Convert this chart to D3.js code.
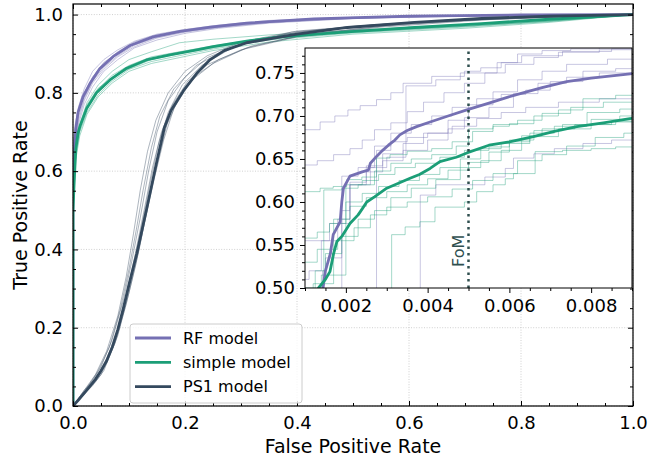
<!DOCTYPE html>
<html><head><meta charset="utf-8">
<script src="https://cdn.jsdelivr.net/npm/d3@7/dist/d3.min.js"></script>
<style>body{margin:0;background:#fff} svg text{font-family:"DejaVu Sans",sans-serif}</style>
</head><body><svg id="c" width="651" height="459"></svg>
<script>
// ---------- data ----------
const models = ["RF model", "simple model", "PS1 model"];
const colors = ["#7570b3", "#1b9e77", "#34495e"];
const xTicks = [0, 0.2, 0.4, 0.6, 0.8, 1.0];
const yTicks = [0, 0.2, 0.4, 0.6, 0.8, 1.0];
const insetXTicks = [0.002, 0.004, 0.006, 0.008];
const insetYTicks = [0.50, 0.55, 0.60, 0.65, 0.70, 0.75];
const fomValue = 0.005;

// mean ROC curves (FPR, TPR)
const rfMean = [[0,0],[0,0.6],[0.001,0.62],[0.002,0.64],[0.005,0.707],[0.009,0.75],[0.018,0.79],[0.03,0.823],[0.048,0.862],[0.072,0.893],[0.102,0.921],[0.143,0.943],[0.191,0.957],[0.245,0.968],[0.31,0.978],[0.43,0.989],[0.6,0.996],[0.8,0.999],[1,1]];
const simpleMean = [[0,0],[0,0.5],[0.002,0.57],[0.005,0.657],[0.009,0.697],[0.0125,0.715],[0.0244,0.76],[0.042,0.8],[0.066,0.833],[0.096,0.863],[0.131,0.884],[0.173,0.897],[0.221,0.91],[0.25,0.918],[0.31,0.932],[0.37,0.943],[0.49,0.956],[0.61,0.967],[0.73,0.977],[0.85,0.988],[1,1]];
const ps1Mean = [[0,0],[0.01,0.016],[0.02,0.033],[0.03,0.05],[0.04,0.068],[0.05,0.09],[0.06,0.115],[0.07,0.15],[0.08,0.195],[0.09,0.25],[0.1,0.31],[0.114,0.39],[0.131,0.5],[0.149,0.62],[0.163,0.71],[0.175,0.755],[0.197,0.805],[0.221,0.85],[0.245,0.885],[0.27,0.908],[0.31,0.928],[0.4,0.95],[0.49,0.967],[0.61,0.98],[0.73,0.99],[0.85,0.996],[1,1]];

// individual folds (main panel)
const rfFolds = [
 [[0,0],[0,0.62],[0.004,0.7],[0.01,0.75],[0.02,0.8],[0.035,0.84],[0.055,0.875],[0.08,0.905],[0.11,0.93],[0.15,0.948],[0.2,0.96],[0.26,0.97],[0.35,0.982],[0.5,0.992],[0.7,0.997],[1,1]],
 [[0,0],[0,0.58],[0.004,0.67],[0.01,0.72],[0.02,0.77],[0.035,0.815],[0.055,0.855],[0.08,0.885],[0.11,0.915],[0.15,0.935],[0.2,0.952],[0.26,0.965],[0.35,0.978],[0.5,0.99],[0.7,0.996],[1,1]],
 [[0,0],[0,0.66],[0.004,0.72],[0.01,0.765],[0.02,0.81],[0.035,0.855],[0.055,0.885],[0.08,0.91],[0.11,0.932],[0.15,0.95],[0.2,0.962],[0.26,0.973],[0.35,0.985],[0.5,0.993],[0.7,0.998],[1,1]],
 [[0,0],[0,0.6],[0.004,0.69],[0.01,0.74],[0.02,0.785],[0.035,0.83],[0.055,0.865],[0.08,0.895],[0.11,0.922],[0.15,0.942],[0.2,0.957],[0.26,0.968],[0.35,0.98],[0.5,0.991],[0.7,0.997],[1,1]],
 [[0,0],[0,0.55],[0.004,0.66],[0.01,0.73],[0.02,0.78],[0.035,0.825],[0.055,0.86],[0.08,0.892],[0.11,0.918],[0.15,0.94],[0.2,0.955],[0.26,0.967],[0.35,0.98],[0.5,0.99],[0.7,0.996],[1,1]],
 [[0,0],[0,0.64],[0.004,0.71],[0.01,0.755],[0.02,0.795],[0.035,0.84],[0.055,0.878],[0.08,0.902],[0.11,0.926],[0.15,0.945],[0.2,0.958],[0.26,0.97],[0.35,0.983],[0.5,0.992],[0.7,0.997],[1,1]]
];
const simpleFolds = [
 [[0,0],[0,0.61],[0.005,0.67],[0.012,0.72],[0.025,0.775],[0.045,0.82],[0.07,0.855],[0.1,0.885],[0.14,0.905],[0.19,0.928],[0.25,0.937],[0.35,0.948],[0.5,0.96],[0.7,0.975],[0.85,0.987],[1,1]],
 [[0,0],[0,0.5],[0.005,0.64],[0.012,0.7],[0.025,0.75],[0.045,0.795],[0.07,0.83],[0.1,0.86],[0.14,0.88],[0.19,0.895],[0.25,0.912],[0.35,0.935],[0.5,0.953],[0.7,0.968],[0.85,0.982],[1,1]],
 [[0,0],[0,0.56],[0.005,0.66],[0.012,0.71],[0.025,0.765],[0.045,0.805],[0.07,0.84],[0.1,0.868],[0.14,0.888],[0.19,0.902],[0.25,0.918],[0.35,0.94],[0.5,0.957],[0.7,0.97],[0.85,0.984],[1,1]],
 [[0,0],[0,0.49],[0.005,0.63],[0.012,0.69],[0.025,0.745],[0.045,0.79],[0.07,0.825],[0.1,0.855],[0.14,0.875],[0.19,0.89],[0.25,0.908],[0.35,0.93],[0.5,0.95],[0.7,0.965],[0.85,0.98],[1,1]],
 [[0,0],[0,0.53],[0.005,0.65],[0.012,0.705],[0.025,0.76],[0.045,0.81],[0.07,0.845],[0.1,0.87],[0.14,0.892],[0.19,0.905],[0.25,0.92],[0.35,0.942],[0.5,0.958],[0.7,0.972],[0.85,0.985],[1,1]],
 [[0,0],[0,0.58],[0.005,0.655],[0.012,0.715],[0.025,0.77],[0.045,0.812],[0.07,0.838],[0.1,0.862],[0.14,0.885],[0.19,0.9],[0.25,0.915],[0.35,0.938],[0.5,0.955],[0.7,0.97],[0.85,0.983],[1,1]]
];
const ps1Folds = [
 [[0,0],[0.02,0.04],[0.035,0.065],[0.05,0.1],[0.07,0.17],[0.09,0.27],[0.105,0.37],[0.12,0.48],[0.135,0.6],[0.15,0.7],[0.17,0.78],[0.2,0.84],[0.24,0.89],[0.3,0.925],[0.4,0.955],[0.55,0.975],[0.75,0.992],[1,1]],
 [[0,0],[0.02,0.03],[0.035,0.052],[0.05,0.08],[0.075,0.16],[0.095,0.26],[0.112,0.36],[0.128,0.47],[0.145,0.58],[0.162,0.68],[0.18,0.76],[0.21,0.83],[0.25,0.875],[0.31,0.915],[0.4,0.945],[0.55,0.97],[0.75,0.99],[1,1]],
 [[0,0],[0.02,0.035],[0.045,0.09],[0.065,0.15],[0.085,0.25],[0.1,0.35],[0.113,0.45],[0.125,0.55],[0.14,0.66],[0.155,0.74],[0.18,0.81],[0.22,0.87],[0.28,0.915],[0.38,0.95],[0.5,0.97],[0.7,0.988],[1,1]],
 [[0,0],[0.025,0.04],[0.04,0.062],[0.055,0.09],[0.08,0.18],[0.1,0.29],[0.118,0.4],[0.135,0.52],[0.15,0.62],[0.168,0.72],[0.19,0.79],[0.22,0.845],[0.26,0.885],[0.32,0.92],[0.42,0.95],[0.58,0.975],[0.78,0.992],[1,1]],
 [[0,0],[0.02,0.03],[0.035,0.055],[0.05,0.085],[0.07,0.15],[0.09,0.24],[0.108,0.35],[0.123,0.46],[0.138,0.57],[0.153,0.67],[0.17,0.75],[0.195,0.82],[0.23,0.87],[0.29,0.92],[0.39,0.955],[0.52,0.972],[0.72,0.99],[1,1]],
 [[0,0],[0.015,0.03],[0.04,0.08],[0.06,0.14],[0.08,0.23],[0.095,0.33],[0.108,0.44],[0.12,0.55],[0.133,0.65],[0.148,0.73],[0.17,0.8],[0.2,0.855],[0.24,0.895],[0.3,0.93],[0.4,0.958],[0.6,0.98],[1,1]],
 [[0,0],[0.02,0.035],[0.035,0.06],[0.05,0.09],[0.075,0.17],[0.093,0.27],[0.11,0.38],[0.127,0.5],[0.142,0.61],[0.158,0.7],[0.178,0.77],[0.205,0.83],[0.24,0.872],[0.3,0.91],[0.4,0.943],[0.55,0.968],[0.75,0.988],[1,1]]
];

// inset (zoomed) curves
const rfInsetMean = [[0.00144,0.49],[0.00144,0.5],[0.0015,0.52],[0.00162,0.54],[0.00169,0.562],[0.00186,0.577],[0.0019,0.6],[0.00194,0.616],[0.0021,0.63],[0.0024,0.635],[0.00255,0.637],[0.0026,0.645],[0.00275,0.653],[0.0029,0.66],[0.00304,0.666],[0.0032,0.672],[0.00332,0.678],[0.0035,0.683],[0.00373,0.6876],[0.00406,0.693],[0.0045,0.7],[0.00496,0.707],[0.0055,0.715],[0.00611,0.724],[0.0068,0.733],[0.0074,0.74],[0.008,0.744],[0.00895,0.749],[0.0092,0.75]];
const simpleInsetMean = [[0.00133,0.49],[0.00133,0.5],[0.0015,0.51],[0.00161,0.519],[0.0017,0.54],[0.00178,0.554],[0.0019,0.56],[0.00202,0.569],[0.0021,0.575],[0.0023,0.585],[0.0024,0.592],[0.00251,0.6],[0.0027,0.606],[0.003,0.616],[0.0033,0.622],[0.00357,0.6275],[0.0038,0.632],[0.00406,0.639],[0.0043,0.647],[0.0047,0.652],[0.00496,0.657],[0.0055,0.666],[0.006,0.67],[0.00659,0.676],[0.0071,0.682],[0.00765,0.6876],[0.0083,0.692],[0.00895,0.697],[0.0092,0.698]];
const rfInsetFolds = [
 [[0.0009,0.684],[0.00137,0.693],[0.00173,0.70],[0.00205,0.707],[0.00235,0.712],[0.00275,0.719],[0.0031,0.727],[0.0034,0.738],[0.0041,0.746],[0.0049,0.752],[0.0053,0.756],[0.0058,0.762],[0.0062,0.772],[0.0068,0.776],[0.0075,0.778],[0.0082,0.779],[0.0092,0.779]],
 [[0.0009,0.643],[0.0013,0.648],[0.0017,0.655],[0.0021,0.662],[0.0024,0.672],[0.0027,0.684],[0.0031,0.692],[0.0035,0.705],[0.0039,0.716],[0.0044,0.727],[0.0049,0.738],[0.0054,0.75],[0.0059,0.76],[0.0066,0.768],[0.0072,0.774],[0.0082,0.777],[0.0092,0.777]],
 [[0.0009,0.49],[0.00143,0.52],[0.0015,0.535],[0.0019,0.59],[0.0021,0.623],[0.0025,0.642],[0.0029,0.656],[0.0034,0.668],[0.0039,0.68],[0.0045,0.695],[0.005,0.713],[0.0056,0.728],[0.0062,0.742],[0.0068,0.752],[0.0074,0.76],[0.0084,0.766],[0.0092,0.766]],
 [[0.0009,0.49],[0.0019,0.63],[0.0023,0.64],[0.0027,0.665],[0.0031,0.68],[0.0036,0.69],[0.0041,0.7],[0.0046,0.71],[0.0052,0.72],[0.0058,0.725],[0.0064,0.73],[0.007,0.74],[0.0078,0.752],[0.0086,0.755],[0.0092,0.755]],
 [[0.0009,0.49],[0.00275,0.66],[0.0031,0.67],[0.0035,0.675],[0.004,0.68],[0.0046,0.688],[0.0052,0.697],[0.0058,0.704],[0.0064,0.71],[0.0072,0.716],[0.0082,0.72],[0.0092,0.72]],
 [[0.0009,0.555],[0.0016,0.575],[0.0021,0.62],[0.0026,0.64],[0.003,0.652],[0.00347,0.735],[0.0042,0.742],[0.0048,0.75],[0.0057,0.762],[0.0063,0.77],[0.0073,0.775],[0.0085,0.778],[0.0092,0.778]],
 [[0.0009,0.49],[0.00382,0.608],[0.0042,0.62],[0.0054,0.629],[0.0059,0.639],[0.0061,0.651],[0.0066,0.656],[0.0071,0.662],[0.0078,0.668],[0.0085,0.672],[0.0092,0.672]],
 [[0.0009,0.51],[0.0011,0.52],[0.0014,0.555],[0.0018,0.58],[0.0021,0.62],[0.0025,0.635],[0.0029,0.648],[0.0034,0.66],[0.004,0.672],[0.0045,0.685],[0.0049,0.698],[0.0055,0.71],[0.0061,0.726],[0.0067,0.738],[0.0074,0.745],[0.0082,0.75],[0.0092,0.75]]
];
const simpleInsetFolds = [
 [[0.0009,0.612],[0.00137,0.616],[0.00169,0.618],[0.00202,0.626],[0.00239,0.629],[0.00275,0.651],[0.00308,0.655],[0.0035,0.659],[0.0041,0.662],[0.0046,0.67],[0.0051,0.682],[0.0056,0.688],[0.006,0.691],[0.0066,0.7],[0.0072,0.707],[0.0078,0.72],[0.0086,0.724],[0.0092,0.724]],
 [[0.0009,0.49],[0.00146,0.614],[0.0019,0.616],[0.0023,0.62],[0.0027,0.636],[0.0031,0.645],[0.0036,0.65],[0.0041,0.655],[0.0047,0.665],[0.005,0.685],[0.0056,0.69],[0.0062,0.695],[0.0068,0.703],[0.0075,0.71],[0.0083,0.716],[0.0092,0.716]],
 [[0.0009,0.558],[0.0013,0.565],[0.0016,0.575],[0.002,0.6],[0.0024,0.61],[0.0028,0.618],[0.0033,0.625],[0.0038,0.632],[0.0043,0.64],[0.0048,0.65],[0.0053,0.662],[0.0058,0.668],[0.0065,0.676],[0.0072,0.685],[0.008,0.69],[0.0086,0.693],[0.0092,0.693]],
 [[0.0009,0.49],[0.0012,0.505],[0.0017,0.58],[0.0021,0.595],[0.0025,0.605],[0.003,0.612],[0.0035,0.62],[0.004,0.627],[0.0045,0.637],[0.005,0.646],[0.0055,0.658],[0.006,0.672],[0.0066,0.683],[0.0073,0.69],[0.008,0.696],[0.0087,0.7],[0.0092,0.7]],
 [[0.0009,0.5],[0.0014,0.515],[0.002,0.62],[0.0024,0.625],[0.0028,0.632],[0.0032,0.64],[0.0037,0.645],[0.0043,0.652],[0.0049,0.66],[0.0055,0.664],[0.006,0.67],[0.0065,0.68],[0.0071,0.688],[0.0079,0.704],[0.0087,0.708],[0.0092,0.708]],
 [[0.0009,0.49],[0.00312,0.562],[0.00345,0.571],[0.00381,0.577],[0.00418,0.594],[0.0049,0.6],[0.0052,0.612],[0.0056,0.62],[0.0059,0.627],[0.0061,0.633],[0.00663,0.6585],[0.0073,0.66],[0.008,0.662],[0.0086,0.664],[0.0092,0.664]],
 [[0.0009,0.53],[0.0013,0.545],[0.0018,0.555],[0.0022,0.57],[0.0026,0.585],[0.003,0.594],[0.0035,0.6],[0.004,0.606],[0.0046,0.615],[0.0051,0.625],[0.0056,0.633],[0.0062,0.648],[0.0068,0.655],[0.0074,0.665],[0.0081,0.675],[0.0088,0.68],[0.0092,0.68]],
 [[0.0009,0.49],[0.00125,0.52],[0.0015,0.54],[0.0019,0.56],[0.0023,0.58],[0.0027,0.59],[0.0031,0.605],[0.0036,0.616],[0.0042,0.626],[0.0048,0.64],[0.0053,0.648],[0.0058,0.66],[0.0063,0.677],[0.0068,0.685],[0.0076,0.69],[0.0085,0.694],[0.0092,0.694]]
];

// ---------- drawing ----------
const svg = d3.select("#c");
const FONT = 18;
const x = d3.scaleLinear().domain([0, 1]).range([73, 633]);
const y = d3.scaleLinear().domain([0, 1.027]).range([406, 4]);
const xi = d3.scaleLinear().domain([0.001, 0.009]).range([305, 632]);
const yi = d3.scaleLinear().domain([0.5, 0.779]).range([288, 48]);

const defs = svg.append("defs");
defs.append("clipPath").attr("id","mainClip").append("rect")
  .attr("x", x(0)).attr("y", y(1.027)).attr("width", x(1)-x(0)).attr("height", y(0)-y(1.027));
defs.append("clipPath").attr("id","insClip").append("rect")
  .attr("x", xi(0.001)).attr("y", yi(0.779)).attr("width", xi(0.009)-xi(0.001)).attr("height", yi(0.5)-yi(0.779));

// grid
const grid = svg.append("g");
xTicks.forEach(t => grid.append("line").attr("x1", x(t)).attr("x2", x(t)).attr("y1", y(0)).attr("y2", y(1.027)));
yTicks.forEach(t => grid.append("line").attr("y1", y(t)).attr("y2", y(t)).attr("x1", x(0)).attr("x2", x(1)));
grid.selectAll("line").attr("stroke", "#c4c4c4").attr("stroke-width", 0.8).attr("stroke-dasharray", "1,1.6");

// main curves
const lineMain = d3.line().x(d => x(d[0])).y(d => y(d[1])).curve(d3.curveMonotoneX);
const lineMainL = d3.line().x(d => x(d[0])).y(d => y(d[1]));
const mainG = svg.append("g").attr("clip-path", "url(#mainClip)");
const foldSets = [rfFolds, simpleFolds, ps1Folds];
const means = [rfMean, simpleMean, ps1Mean];
foldSets.forEach((fs, i) => fs.forEach(f => mainG.append("path").attr("d", lineMainL(f))
  .attr("fill","none").attr("stroke", colors[i]).attr("stroke-opacity", 0.45).attr("stroke-width", 0.9)));
means.forEach((m, i) => mainG.append("path").attr("d", lineMainL(m))
  .attr("fill","none").attr("stroke", colors[i]).attr("stroke-width", 2.8).attr("stroke-linejoin","round"));

// main axes
function styleAxis(g) {
  g.select(".domain").remove();
  g.selectAll(".tick line").attr("stroke", "#000").attr("stroke-width", 1);
  g.selectAll(".tick text").attr("font-size", FONT).attr("fill", "#000").attr("font-family", "DejaVu Sans");
}
const xMinor = d3.range(0, 1.0001, 0.05).filter(v => !xTicks.some(t => Math.abs(t - v) < 1e-6));
const yMinor = d3.range(0, 1.0001, 0.05).filter(v => !yTicks.some(t => Math.abs(t - v) < 1e-6));

svg.append("g").attr("transform", `translate(0,${y(0)})`)
  .call(d3.axisBottom(x).tickValues(xTicks).tickFormat(d3.format(".1f")).tickSizeInner(-5).tickSizeOuter(0).tickPadding(10)).call(styleAxis);
svg.append("g").attr("transform", `translate(0,${y(0)})`)
  .call(d3.axisBottom(x).tickValues(xMinor).tickFormat("").tickSizeInner(-3).tickSizeOuter(0)).call(styleAxis);
svg.append("g").attr("transform", `translate(0,${y(1.027)})`)
  .call(d3.axisTop(x).tickValues(xTicks).tickFormat("").tickSizeInner(-5).tickSizeOuter(0)).call(styleAxis);
svg.append("g").attr("transform", `translate(0,${y(1.027)})`)
  .call(d3.axisTop(x).tickValues(xMinor).tickFormat("").tickSizeInner(-3).tickSizeOuter(0)).call(styleAxis);
svg.append("g").attr("transform", `translate(${x(0)},0)`)
  .call(d3.axisLeft(y).tickValues(yTicks).tickFormat(d3.format(".1f")).tickSizeInner(-5).tickSizeOuter(0).tickPadding(10)).call(styleAxis);
svg.append("g").attr("transform", `translate(${x(0)},0)`)
  .call(d3.axisLeft(y).tickValues(yMinor).tickFormat("").tickSizeInner(-3).tickSizeOuter(0)).call(styleAxis);
svg.append("g").attr("transform", `translate(${x(1)},0)`)
  .call(d3.axisRight(y).tickValues(yTicks).tickFormat("").tickSizeInner(-5).tickSizeOuter(0)).call(styleAxis);
svg.append("g").attr("transform", `translate(${x(1)},0)`)
  .call(d3.axisRight(y).tickValues(yMinor).tickFormat("").tickSizeInner(-3).tickSizeOuter(0)).call(styleAxis);

svg.append("rect").attr("x", x(0)).attr("y", y(1.027)).attr("width", x(1)-x(0)).attr("height", y(0)-y(1.027))
  .attr("fill","none").attr("stroke","#000").attr("stroke-width",1.2);

// axis labels
svg.append("text").attr("x", (x(0)+x(1))/2).attr("y", 453).attr("text-anchor","middle")
  .attr("font-size", 19).text("False Positive Rate");
svg.append("text").attr("transform", `translate(27,${(y(0)+y(1.027))/2}) rotate(-90)`).attr("text-anchor","middle")
  .attr("font-size", 19).text("True Positive Rate");

// legend
const lg = svg.append("g");
lg.append("rect").attr("x",130).attr("y",324).attr("width",172).attr("height",79).attr("rx",3)
  .attr("fill","#fff").attr("fill-opacity",0.8).attr("stroke","#cccccc").attr("stroke-width",1);
models.forEach((m, i) => {
  const yy = 338 + i*24.3;
  lg.append("line").attr("x1",135).attr("x2",171).attr("y1",yy).attr("y2",yy).attr("stroke",colors[i]).attr("stroke-width",2.8);
  lg.append("text").attr("x",183).attr("y",yy).attr("dy","0.36em").attr("font-size",16).text(m);
});

// ---------- inset ----------
const ins = svg.append("g");
ins.append("rect").attr("x", xi(0.001)).attr("y", yi(0.779)).attr("width", xi(0.009)-xi(0.001)).attr("height", yi(0.5)-yi(0.779)).attr("fill","#fff");
const lineIns = d3.line().x(d => xi(d[0])).y(d => yi(d[1]));
const stepIns = d3.line().x(d => xi(d[0])).y(d => yi(d[1])).curve(d3.curveStepAfter);
const insG = ins.append("g").attr("clip-path","url(#insClip)");
[rfInsetFolds, simpleInsetFolds].forEach((fs, i) => fs.forEach(f => insG.append("path").attr("d", stepIns(f))
  .attr("fill","none").attr("stroke", colors[i]).attr("stroke-opacity", 0.4).attr("stroke-width", 1)));
[rfInsetMean, simpleInsetMean].forEach((m, i) => insG.append("path").attr("d", lineIns(m))
  .attr("fill","none").attr("stroke", colors[i]).attr("stroke-width", 2.8).attr("stroke-linejoin","round"));
// FoM line
insG.append("line").attr("x1", xi(fomValue)).attr("x2", xi(fomValue)).attr("y1", yi(0.5)).attr("y2", yi(0.779))
  .attr("stroke","#2f4f4f").attr("stroke-width",2.5).attr("stroke-dasharray","2.5,4");
ins.append("text").attr("transform", `translate(${xi(fomValue)-5},${yi(0.5)-21}) rotate(-90)`)
  .attr("font-size",16).attr("fill","#2f4f4f").text("FoM");

const ixMinor = d3.range(0.001, 0.00901, 0.0005).filter(v => !insetXTicks.some(t => Math.abs(t - v) < 1e-9));
const iyMinor = d3.range(0.5, 0.7791, 0.01).filter(v => !insetYTicks.some(t => Math.abs(t - v) < 1e-9));
ins.append("g").attr("transform", `translate(0,${yi(0.5)})`)
  .call(d3.axisBottom(xi).tickValues(insetXTicks).tickFormat(d3.format(".3f")).tickSizeInner(5).tickSizeOuter(0).tickPadding(6)).call(styleAxis);
ins.append("g").attr("transform", `translate(0,${yi(0.5)})`)
  .call(d3.axisBottom(xi).tickValues(ixMinor).tickFormat("").tickSizeInner(3).tickSizeOuter(0)).call(styleAxis);
ins.append("g").attr("transform", `translate(${xi(0.001)},0)`)
  .call(d3.axisLeft(yi).tickValues(insetYTicks).tickFormat(d3.format(".2f")).tickSizeInner(5).tickSizeOuter(0).tickPadding(5)).call(styleAxis);
ins.append("g").attr("transform", `translate(${xi(0.001)},0)`)
  .call(d3.axisLeft(yi).tickValues(iyMinor).tickFormat("").tickSizeInner(3).tickSizeOuter(0)).call(styleAxis);
ins.append("rect").attr("x", xi(0.001)).attr("y", yi(0.779)).attr("width", xi(0.009)-xi(0.001)).attr("height", yi(0.5)-yi(0.779))
  .attr("fill","none").attr("stroke","#000").attr("stroke-width",1);
</script></body></html>
